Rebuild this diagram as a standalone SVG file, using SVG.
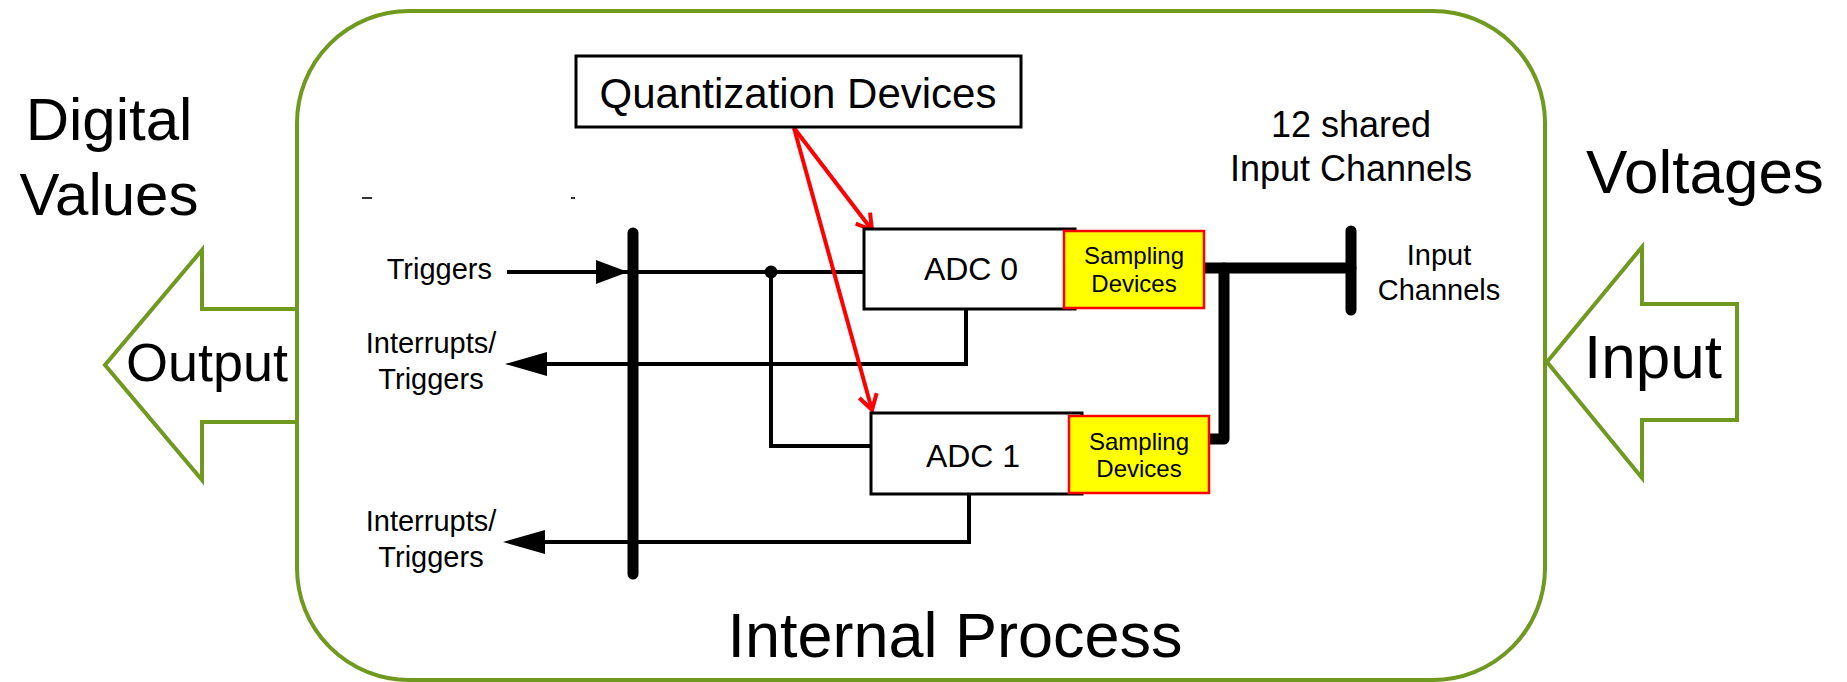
<svg xmlns="http://www.w3.org/2000/svg" width="1847" height="682" viewBox="0 0 1847 682">
<style>
  text { font-family: "Liberation Sans", Arial, sans-serif; fill: #000; }
  .green { fill: none; stroke: #6F991F; stroke-width: 4; stroke-linejoin: miter; }
  .wire { fill: none; stroke: #000; stroke-width: 4; }
  .bus { fill: none; stroke: #000; stroke-width: 11; stroke-linecap: round; stroke-linejoin: round; }
  .box { fill: #fff; stroke: #000; stroke-width: 3; }
  .samp { fill: #FFFF00; stroke: #FF0000; stroke-width: 2.5; }
  .red { fill: none; stroke: #FF0000; stroke-width: 4; }
</style>
<defs>
  <marker id="redhead" viewBox="0 0 20 24" refX="18" refY="12" markerWidth="20" markerHeight="24" markerUnits="userSpaceOnUse" orient="auto">
    <path d="M3,3 L18,12 L3,21" fill="none" stroke="#FF0000" stroke-width="4"/>
  </marker>
</defs>
<rect width="1847" height="682" fill="#fff"/>

<g id="internal-process">
  <rect class="green" x="297" y="11" width="1248" height="669" rx="112" ry="112"/>
  <text x="955" y="657" font-size="63" text-anchor="middle">Internal Process</text>
</g>

<g id="output-arrow">
  <path class="green" d="M297,309 H202 V250 L105,365 L202,480 V422 H297" fill="#fff"/>
  <text x="126" y="381" font-size="54">Output</text>
</g>
<g id="digital-values">
  <text x="109" y="140" font-size="60" text-anchor="middle">Digital</text>
  <text x="109" y="215" font-size="60" text-anchor="middle">Values</text>
</g>

<g id="input-arrow">
  <path class="green" d="M1737,304 H1642 V247 L1547,362 L1642,478 V420 H1737 Z" fill="#fff"/>
  <text x="1584" y="378" font-size="62">Input</text>
</g>
<g id="voltages">
  <text x="1586" y="193" font-size="62">Voltages</text>
</g>

<g id="stray-marks">
  <line x1="362" y1="198" x2="372" y2="198" stroke="#333" stroke-width="2"/>
  <line x1="571" y1="198" x2="575" y2="198" stroke="#333" stroke-width="2"/>
</g>

<g id="connectors">
  <line class="bus" x1="633" y1="233" x2="633" y2="574"/>
  <line class="wire" x1="507" y1="272" x2="864" y2="272"/>
  <polygon points="596,260 628,272 596,284" fill="#000"/>
  <circle cx="771" cy="272" r="6.5" fill="#000"/>
  <polyline class="wire" points="771,272 771,446 871,446"/>
  <polyline class="wire" points="966,309 966,364 540,364"/>
  <polygon points="505,364 547,352 547,376" fill="#000"/>
  <polyline class="wire" points="969,494 969,542 540,542"/>
  <polygon points="503,542 545,530 545,554" fill="#000"/>
  <polyline class="bus" points="1205,268 1351,268" stroke-linecap="butt"/>
  <line class="bus" x1="1351" y1="231" x2="1351" y2="310"/>
  <polyline class="bus" points="1224,268 1224,439 1209,439" stroke-linecap="butt"/>
  <line class="red" x1="794" y1="128" x2="872" y2="230" marker-end="url(#redhead)"/>
  <line class="red" x1="794" y1="128" x2="872" y2="410" marker-end="url(#redhead)"/>
</g>

<g id="quantization-devices">
  <rect class="box" x="576" y="56" width="445" height="71" stroke-width="2"/>
  <text x="798" y="108" font-size="42" text-anchor="middle">Quantization Devices</text>
</g>

<g id="adc0">
  <rect class="box" x="864" y="229" width="211" height="80"/>
  <text x="971" y="280" font-size="32" text-anchor="middle">ADC 0</text>
</g>
<g id="sampling0">
  <rect class="samp" x="1064" y="231" width="140" height="77"/>
  <text x="1134" y="264" font-size="24" text-anchor="middle">Sampling</text>
  <text x="1134" y="292" font-size="24" text-anchor="middle">Devices</text>
</g>

<g id="adc1">
  <rect class="box" x="871" y="413" width="211" height="81"/>
  <text x="973" y="467" font-size="32" text-anchor="middle">ADC 1</text>
</g>
<g id="sampling1">
  <rect class="samp" x="1069" y="416" width="140" height="77"/>
  <text x="1139" y="450" font-size="24" text-anchor="middle">Sampling</text>
  <text x="1139" y="477" font-size="24" text-anchor="middle">Devices</text>
</g>

<g id="labels">
  <text x="492" y="279" font-size="29" text-anchor="end">Triggers</text>
  <text x="431" y="353" font-size="29" text-anchor="middle">Interrupts/</text>
  <text x="431" y="389" font-size="29" text-anchor="middle">Triggers</text>
  <text x="431" y="531" font-size="29" text-anchor="middle">Interrupts/</text>
  <text x="431" y="567" font-size="29" text-anchor="middle">Triggers</text>
  <text x="1351" y="137" font-size="36" text-anchor="middle">12 shared</text>
  <text x="1351" y="181" font-size="36" text-anchor="middle">Input Channels</text>
  <text x="1439" y="265" font-size="29" text-anchor="middle">Input</text>
  <text x="1439" y="300" font-size="29" text-anchor="middle">Channels</text>
</g>
</svg>
